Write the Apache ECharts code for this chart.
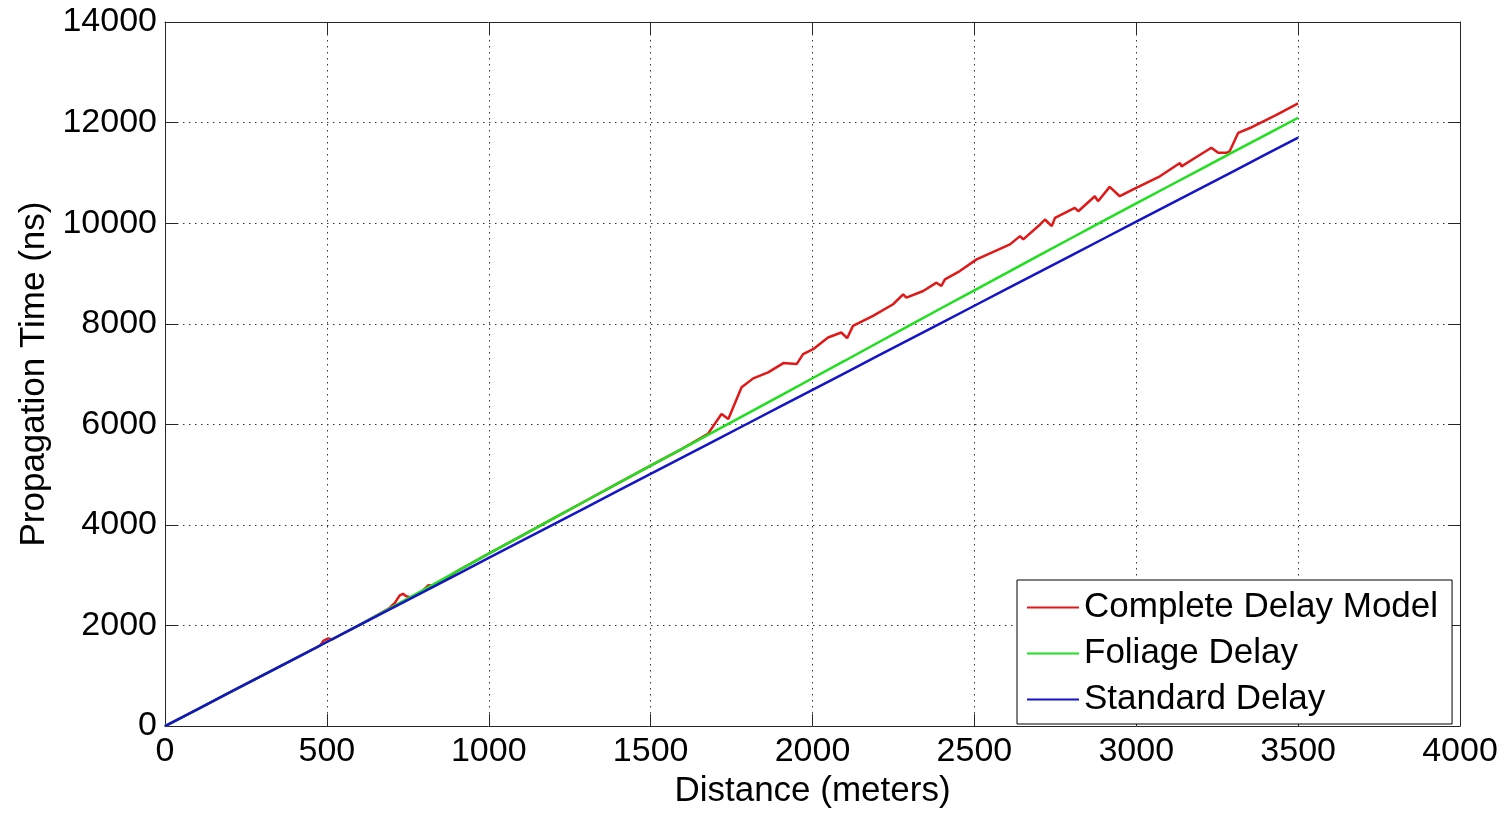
<!DOCTYPE html>
<html>
<head>
    <meta charset="utf-8">
    <title>Propagation time vs distance</title>
    <script src="https://cdn.jsdelivr.net/npm/echarts@6/dist/echarts.min.js"></script>
    <style>
        html, body { margin: 0; padding: 0; background: #fff; }
    </style>
</head>
<body>
    <div id="main" style="width: 1507px;height:814px;"></div>
    <script type="text/javascript">
        // distances (m) for the two smooth curves
        var distance = [0, 100, 200, 300, 400, 500, 600, 700, 800, 900, 1000, 1100, 1200, 1300, 1400, 1500, 1600, 1700,
            1800, 1900, 2000, 2100, 2200, 2300, 2400, 2500, 2600, 2700, 2800, 2900, 3000, 3100, 3200, 3300, 3400, 3500];

        // Standard Delay (ns)
        var standardDelay = [0, 334, 669, 1003, 1337, 1672, 2006, 2340, 2674, 3009, 3343, 3677, 4012, 4346, 4680, 5015, 5349, 5683,
            6017, 6352, 6686, 7020, 7355, 7689, 8023, 8358, 8692, 9026, 9360, 9695, 10029, 10363, 10698, 11032, 11366, 11700];

        // Foliage Delay (ns)
        var foliageDelay = [0, 334, 669, 1003, 1337, 1672, 2006, 2360, 2714, 3071, 3428, 3779, 4130, 4481, 4830, 5178, 5524, 5871,
            6217, 6567, 6916, 7265, 7617, 7967, 8318, 8663, 9010, 9358, 9705, 10050, 10393, 10734, 11076, 11417, 11757, 12096];

        // Complete Delay Model, sampled where the curve bends
        var completeDist = [0, 100, 200, 300, 400, 470, 480, 490, 505, 515, 525, 545, 600, 650, 690, 710, 725, 735, 745, 760, 790,
            813, 830, 860, 900, 1000, 1100, 1200, 1300, 1400, 1500, 1600, 1677, 1719, 1740, 1781, 1817, 1863, 1910, 1951,
            1971, 2002, 2048, 2089, 2107, 2125, 2187, 2249, 2280, 2290, 2342, 2383, 2398, 2409, 2455, 2507, 2610, 2641,
            2651, 2703, 2718, 2739, 2749, 2810, 2821, 2872, 2882, 2918, 2949, 3000, 3073, 3135, 3140, 3176, 3232, 3253,
            3279, 3289, 3315, 3351, 3433, 3500];
        var completeDelay = [0, 334, 669, 1003, 1337, 1571, 1610, 1700, 1745, 1722, 1752, 1822, 2006, 2185, 2330, 2450, 2600, 2630,
            2580, 2560, 2650, 2800, 2790, 2895, 3071, 3428, 3779, 4130, 4481, 4830, 5178, 5524, 5810, 6207, 6107, 6736,
            6914, 7033, 7218, 7198, 7396, 7495, 7727, 7826, 7713, 7958, 8157, 8388, 8586, 8520, 8652, 8817, 8751, 8884,
            9048, 9280, 9578, 9743, 9677, 9974, 10073, 9941, 10106, 10305, 10238, 10536, 10437, 10721, 10536, 10701,
            10932, 11196, 11130, 11275, 11500, 11400, 11400, 11433, 11797, 11892, 12155, 12383];

        var xTicks = { min: 0, max: 4000, interval: 500 };
        var yTicks = { min: 0, max: 14000, interval: 2000 };

        function pairs(xs, ys) {
            var out = [];
            for (var i = 0; i < xs.length; i++) {
                out.push([xs[i], ys[i]]);
            }
            return out;
        }

        // plain numbers, no thousands separator
        function plain(v) {
            return String(v);
        }

        var font = '"Liberation Sans", Arial, sans-serif';
        var boxColor = '#262626';
        var gridStyle = { color: '#333', type: [1.5, 4.5], width: 1 };

        var myChart = echarts.init(document.getElementById('main'));

        var option = {
            animation: false,
            backgroundColor: '#fff',
            grid: { left: 165, top: 22, right: 47, bottom: 86, containLabel: false },
            legend: {
                orient: 'vertical',
                left: 1017,
                top: 580,
                padding: [10, 14, 7, 10],
                itemGap: 11,
                itemWidth: 52,
                itemHeight: 2,
                icon: 'rect',
                backgroundColor: '#fff',
                borderColor: '#000',
                borderWidth: 1,
                borderRadius: 0,
                textStyle: { fontFamily: font, fontSize: 35, color: '#000', lineHeight: 34 },
                data: ['Complete Delay Model', 'Foliage Delay', 'Standard Delay']
            },
            xAxis: [{
                type: 'value',
                min: xTicks.min,
                max: xTicks.max,
                interval: xTicks.interval,
                name: 'Distance (meters)',
                nameLocation: 'middle',
                nameGap: 47,
                nameTextStyle: { fontFamily: font, fontSize: 35, color: '#000' },
                axisLine: { show: true, onZero: false, lineStyle: { color: boxColor, width: 1 } },
                axisTick: { show: true, inside: true, length: 12, lineStyle: { color: boxColor } },
                axisLabel: { fontFamily: font, fontSize: 34, color: '#000', margin: 9, formatter: plain, showMinLabel: true, showMaxLabel: true },
                splitLine: { show: true, lineStyle: gridStyle }
            }, {
                type: 'value',
                position: 'top',
                min: xTicks.min,
                max: xTicks.max,
                interval: xTicks.interval,
                axisLine: { show: true, onZero: false, lineStyle: { color: boxColor, width: 1 } },
                axisTick: { show: true, inside: true, length: 12, lineStyle: { color: boxColor } },
                axisLabel: { show: false },
                splitLine: { show: false }
            }],
            yAxis: [{
                type: 'value',
                min: yTicks.min,
                max: yTicks.max,
                interval: yTicks.interval,
                name: 'Propagation Time (ns)',
                nameLocation: 'middle',
                nameGap: 113,
                nameTextStyle: { fontFamily: font, fontSize: 35, color: '#000' },
                axisLine: { show: true, onZero: false, lineStyle: { color: boxColor, width: 1 } },
                axisTick: { show: true, inside: true, length: 12, lineStyle: { color: boxColor } },
                axisLabel: { fontFamily: font, fontSize: 34, color: '#000', margin: 8, formatter: plain, showMinLabel: true, showMaxLabel: true },
                splitLine: { show: true, lineStyle: gridStyle }
            }, {
                type: 'value',
                position: 'right',
                min: yTicks.min,
                max: yTicks.max,
                interval: yTicks.interval,
                axisLine: { show: true, onZero: false, lineStyle: { color: boxColor, width: 1 } },
                axisTick: { show: true, inside: true, length: 12, lineStyle: { color: boxColor } },
                axisLabel: { show: false },
                splitLine: { show: false }
            }],
            series: [{
                name: 'Complete Delay Model',
                type: 'line',
                data: pairs(completeDist, completeDelay),
                showSymbol: false,
                color: '#e01818',
                lineStyle: { width: 2.5 }
            }, {
                name: 'Foliage Delay',
                type: 'line',
                data: pairs(distance, foliageDelay),
                showSymbol: false,
                color: '#1ee01e',
                lineStyle: { width: 2.5 }
            }, {
                name: 'Standard Delay',
                type: 'line',
                data: pairs(distance, standardDelay),
                showSymbol: false,
                color: '#1414c8',
                lineStyle: { width: 2.5 }
            }]
        };

        myChart.setOption(option);
    </script>
</body>
</html>
